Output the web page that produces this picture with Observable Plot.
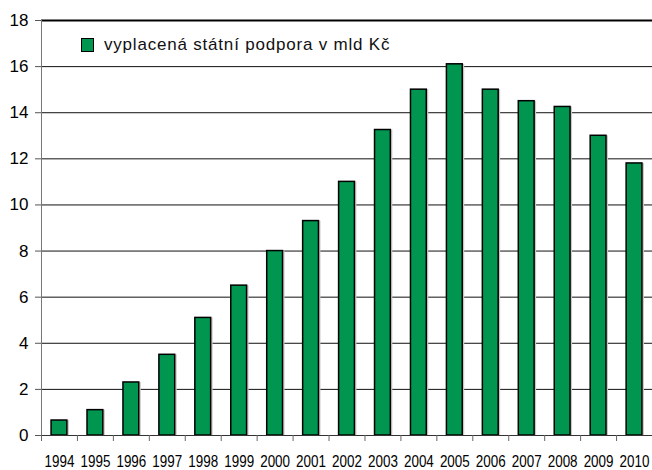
<!DOCTYPE html>
<html>
<head>
<meta charset="utf-8">
<script src="https://cdn.jsdelivr.net/npm/d3@7"></script>
<script src="https://cdn.jsdelivr.net/npm/@observablehq/plot@0.6"></script>
<style>
  html, body { margin: 0; padding: 0; background: #fff; overflow: hidden; }
  #wrap { position: relative; width: 652px; height: 470px; }
  #legend { position: absolute; left: 81px; top: 35px; display: flex; align-items: center;
    font-family: "Liberation Sans", Arial, Helvetica, sans-serif; font-size: 17px; letter-spacing: 0.8px; color: #111; }
  #legend .sw { width: 11px; height: 12.5px; background: #009650; border: 1.5px solid #000; margin-right: 10px; }
</style>
</head>
<body>
<div id="wrap">
  <div id="legend"><span class="sw"></span><span id="legtext"></span></div>
</div>
<script>
const years = ["1994","1995","1996","1997","1998","1999","2000","2001","2002","2003","2004","2005","2006","2007","2008","2009","2010"];
const values = [0.65, 1.1, 2.3, 3.5, 5.1, 6.5, 8.0, 9.3, 11.0, 13.25, 15.0, 16.1, 15.0, 14.5, 14.25, 13.0, 11.8];
const yTicks = [0, 2, 4, 6, 8, 10, 12, 14, 16, 18];
const seriesName = "vyplacená státní podpora v mld Kč";

const data = years.map((y, i) => ({year: y, value: values[i]}));
document.getElementById("legtext").textContent = seriesName;

const W = 652, H = 470, mL = 41, mR = 0, mT = 20, mB = 35;
const band = (W - mL - mR) / years.length;

const chart = Plot.plot({
  width: W, height: H,
  marginLeft: mL, marginRight: mR, marginTop: mT, marginBottom: mB,
  style: {fontFamily: "'Liberation Sans', Arial, sans-serif", background: "transparent", overflow: "visible"},
  x: {domain: years, paddingInner: 0.56, paddingOuter: 0.28, round: false, label: null, axis: null},
  y: {domain: [0, 18], label: null, axis: null},
  marks: [
    Plot.ruleY(yTicks.filter(d => d > 0 && d < 18), {stroke: "#111", strokeWidth: 1}),
    Plot.ruleY([18], {stroke: "#000", strokeWidth: 2}),
    Plot.axisY({ticks: yTicks, tickSize: 6, tickPadding: 7, fontSize: 17, stroke: "#555", fill: "#000", label: null}),
    Plot.frame({anchor: "left", stroke: "#777"}),
    Plot.barY(data, {x: "year", y: "value", fill: "#c8c8c8", dx: 2, dy: 0}),
    Plot.barY(data, {x: "year", y: "value", fill: "#009650", stroke: "#000", strokeWidth: 1.5}),
    Plot.ruleY([0], {stroke: "#333", strokeWidth: 1}),
    Plot.axisX({tickSize: 6, text: null, dx: -band / 2, stroke: "#666"}),
    Plot.axisX({tickSize: 0, tickPadding: 20, fontSize: 16, fill: "#000", label: null})
  ]
});
// condense the year labels horizontally, as in the reference
d3.select(chart).selectAll("text").each(function() {
  if (/^\d{4}$/.test(this.textContent.trim())) {
    const t = this.getAttribute("transform") || "";
    this.setAttribute("transform", t + " scale(0.84,1)");
  }
});
document.getElementById("wrap").prepend(chart);
</script>
</body>
</html>
